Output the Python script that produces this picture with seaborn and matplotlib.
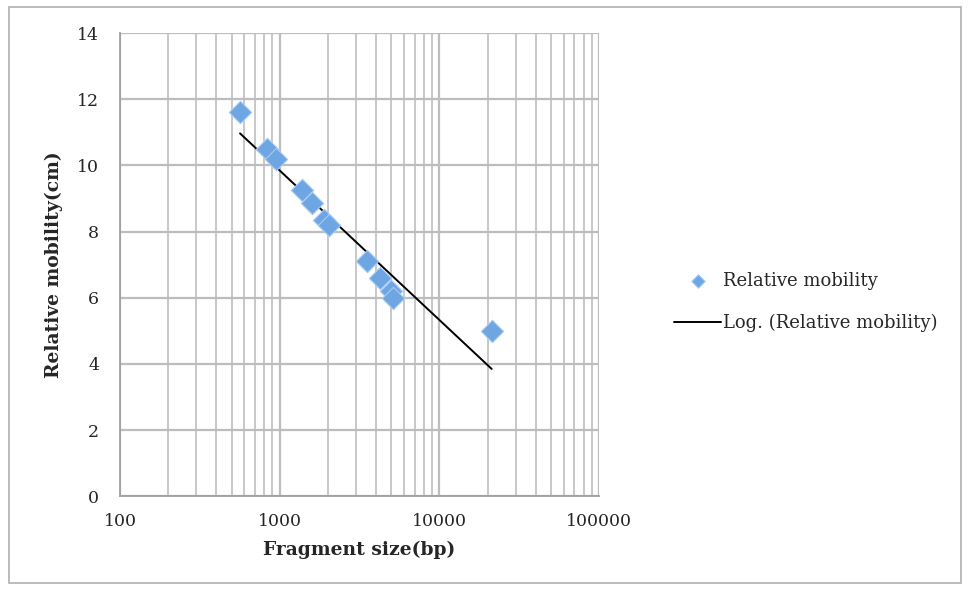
import numpy as np
import pandas as pd
import matplotlib
matplotlib.use("Agg")
import matplotlib.pyplot as plt
import seaborn as sns
from matplotlib.ticker import LogLocator, FixedLocator, NullFormatter

# lambda DNA EcoRI/HindIII marker: fragment size vs migration distance
fragment_bp = [564, 831, 947, 1375, 1584, 1904, 2027, 3530, 4268, 4973, 5148, 21226]
mobility_cm = [11.6, 10.5, 10.2, 9.25, 8.85, 8.35, 8.2, 7.1, 6.6, 6.2, 6.0, 5.0]

x_ticks = [100, 1000, 10000, 100000]
y_ticks = [0, 2, 4, 6, 8, 10, 12, 14]

df = pd.DataFrame({"size": fragment_bp, "mobility": mobility_cm})

# Excel-style logarithmic trendline: y = a*ln(x) + b
a, b = np.polyfit(np.log(df["size"]), df["mobility"], 1)
trend = pd.DataFrame({"size": [min(fragment_bp), max(fragment_bp)]})
trend["mobility"] = a * np.log(trend["size"]) + b

sns.set_style("white")
plt.rcParams['font.family'] = ['DejaVu Serif', 'Liberation Serif']

fig = plt.figure(figsize=(9.68, 5.90), dpi=100)
ax = fig.add_axes([0.124, 0.159, 0.495, 0.785])

ax.set_xscale("log")
ax.set_xlim(100, 100000)
ax.set_ylim(0, 14)

sns.lineplot(data=trend, x="size", y="mobility", color="black", linewidth=1.4,
             ax=ax, label="Log. (Relative mobility)", zorder=3)
sns.scatterplot(data=df, x="size", y="mobility", marker="D", s=130,
                color="#6ea5e3", edgecolor="#a9cbf0", linewidth=0.8,
                ax=ax, label="Relative mobility", zorder=4)

ax.xaxis.set_major_locator(FixedLocator(x_ticks))
ax.set_xticklabels([str(t) for t in x_ticks])
ax.xaxis.set_minor_locator(LogLocator(base=10, subs=np.arange(2, 10)))
ax.xaxis.set_minor_formatter(NullFormatter())
ax.set_yticks(y_ticks)

ax.grid(True, which="major", color="#bdbdbd", linewidth=1.6)
ax.grid(True, which="minor", axis="x", color="#c4c4c4", linewidth=1.3)
ax.set_axisbelow(True)

for side in ["top", "right"]:
    ax.spines[side].set_visible(False)
for side in ["left", "bottom"]:
    ax.spines[side].set_color("#a0a0a0")
    ax.spines[side].set_linewidth(1.3)

ax.tick_params(axis="both", which="major", direction="out", length=5,
               color="#a0a0a0", width=1.2, labelsize=12.5, pad=7,
               labelcolor="#262626")
ax.tick_params(axis="y", which="major", pad=10)
ax.tick_params(axis="x", which="minor", length=0)

ax.set_xlabel("Fragment size(bp)", fontsize=13.5, fontweight="bold", labelpad=8)
ax.set_ylabel("Relative mobility(cm)", fontsize=13.5, fontweight="bold", labelpad=10)

handles, labels = ax.get_legend_handles_labels()
ax.get_legend().remove()
order = [labels.index("Relative mobility"), labels.index("Log. (Relative mobility)")]
fig.legend([handles[i] for i in order], [labels[i] for i in order],
           loc="center left", bbox_to_anchor=(0.68, 0.488), frameon=False,
           fontsize=13, handlelength=2.6, handletextpad=0.1, labelspacing=1.3,
           markerscale=0.6)

# outer chart border
fig.patches.append(plt.Rectangle((0.009, 0.012), 0.984, 0.976, transform=fig.transFigure,
                                 fill=False, edgecolor="#b0b0b0", linewidth=1.2))

fig.savefig("out.png", dpi=100)
